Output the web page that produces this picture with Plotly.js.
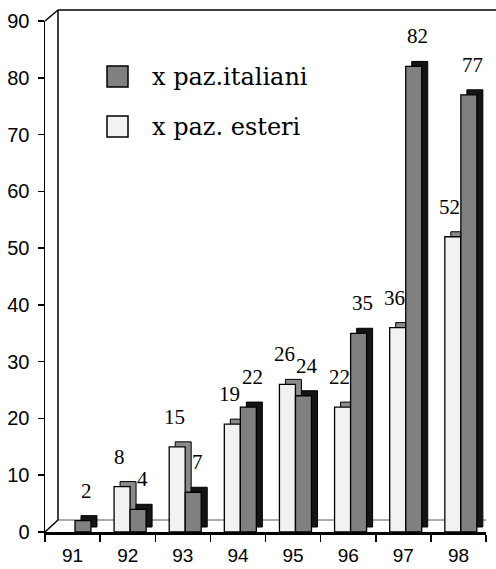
<!DOCTYPE html>
<html>
<head>
<meta charset="utf-8">
<script src="https://cdn.plot.ly/plotly-3.0.1.min.js"></script>
<style>html,body{margin:0;padding:0;background:#fff;}#chart{width:496px;height:569px;}</style>
</head>
<body>
<div id="chart"></div>
<script>
// ---- data ----
const years = ['91', '92', '93', '94', '95', '96', '97', '98'];
const italiani = [2, 4, 7, 22, 24, 35, 82, 77];
const esteri = [null, 8, 15, 19, 26, 22, 36, 52];
const seriesNames = ['x paz.italiani', 'x paz. esteri'];
const yTicks = [0, 10, 20, 30, 40, 50, 60, 70, 80, 90];

// ---- style ----
const W = 496, H = 569;
const M = {l: 45, r: 10, t: 21, b: 37};
const plotW = W - M.l - M.r, plotH = H - M.t - M.b;
const catPx = plotW / years.length;
const barW = 0.29;             // bar width in category units
const offE = -0.247, offI = 0.044;
const depthPx = 6;             // 3D depth (px)
const depthX = depthPx / catPx;
const depthY = 5 * 90 / plotH; // in data units
const colI = '#808080', colE = '#f2f2f2';
const sideI = '#141414', sideE = '#8a8a8a';

function px2paperX(p) { return (p - M.l) / plotW; }
function px2paperY(p) { return (H - M.b - p) / plotH; }

const traces = [
  {type: 'bar', x: years, y: esteri, base: esteri.map(() => depthY), offset: offE + depthX, width: barW,
   marker: {color: sideE, line: {color: '#000', width: 1}}, hoverinfo: 'skip', showlegend: false},
  {type: 'bar', x: years, y: esteri, offset: offE, width: barW, name: seriesNames[1],
   marker: {color: colE, line: {color: '#000', width: 1.3}}, showlegend: false},
  {type: 'bar', x: years, y: italiani, base: italiani.map(() => depthY), offset: offI + depthX, width: barW,
   marker: {color: sideI, line: {color: '#000', width: 1}}, hoverinfo: 'skip', showlegend: false},
  {type: 'bar', x: years, y: italiani, offset: offI, width: barW, name: seriesNames[0],
   marker: {color: colI, line: {color: '#000', width: 1.3}}, showlegend: false}
];

const labelFont = {family: 'Liberation Serif', size: 21, color: '#000'};
const annotations = [];
function addLabels(vals, off, nudge) {
  vals.forEach((v, i) => {
    if (v === null) return;
    annotations.push({x: i, y: v, xref: 'x', yref: 'y', text: String(v), showarrow: false,
      xshift: (off + barW / 2) * catPx + nudge, yshift: 30, yanchor: 'middle', xanchor: 'center', font: labelFont});
  });
}
addLabels(esteri, offE, -3);
addLabels(italiani, offI, 4);

// manual legend
const legFont = {family: 'DejaVu Serif', size: 24, color: '#000'};
const legRows = [{name: seriesNames[0], col: colI, top: 66}, {name: seriesNames[1], col: colE, top: 116}];
const shapes = [];
legRows.forEach(r => {
  shapes.push({type: 'rect', xref: 'paper', yref: 'paper', x0: px2paperX(107), x1: px2paperX(128),
    y0: px2paperY(r.top), y1: px2paperY(r.top + 21), fillcolor: r.col, line: {color: '#000', width: 1.5}});
  annotations.push({xref: 'paper', yref: 'paper', x: px2paperX(150), y: px2paperY(r.top + 10.5),
    xanchor: 'left', yanchor: 'middle', text: r.name, showarrow: false, font: legFont});
});

// 3D box frame
const line = (x0, y0, x1, y1, c, w) => ({type: 'line', xref: 'paper', yref: 'paper', layer: 'below',
  x0: px2paperX(x0), y0: px2paperY(y0), x1: px2paperX(x1), y1: px2paperY(y1), line: {color: c, width: w}});
shapes.push(line(58, 10, 58, 520, '#000', 1.5));
shapes.push(line(58, 10, 496, 10, '#000', 1.5));
shapes.push(line(45, 21, 58, 10, '#000', 1.5));
shapes.push(line(45, 532, 58, 520, '#000', 1.5));
shapes.push(line(58, 520, 486, 520, '#555', 1));

const layout = {
  width: W, height: H, margin: M,
  paper_bgcolor: '#fff', plot_bgcolor: 'rgba(0,0,0,0)',
  barmode: 'overlay', showlegend: false,
  xaxis: {type: 'category', range: [-0.5, years.length - 0.5], showline: true, linecolor: '#000', linewidth: 2.5,
    ticks: 'outside', tickson: 'boundaries', ticklen: 7, tickwidth: 1.5, tickcolor: '#000',
    showgrid: false, zeroline: false, ticklabelstandoff: 5,
    tickfont: {family: 'Liberation Sans', size: 19, color: '#000'}},
  yaxis: {range: [0, 90], tickmode: 'array', tickvals: yTicks, ticktext: yTicks.map(String),
    showline: true, linecolor: '#000', linewidth: 1.5, ticks: 'outside', ticklen: 6, tickwidth: 1.5, tickcolor: '#000',
    showgrid: false, zeroline: false, ticklabelstandoff: 4,
    tickfont: {family: 'Liberation Sans', size: 20, color: '#000'}},
  shapes: shapes,
  annotations: annotations
};

Plotly.newPlot('chart', traces, layout, {displayModeBar: false, staticPlot: true});
</script>
</body>
</html>
